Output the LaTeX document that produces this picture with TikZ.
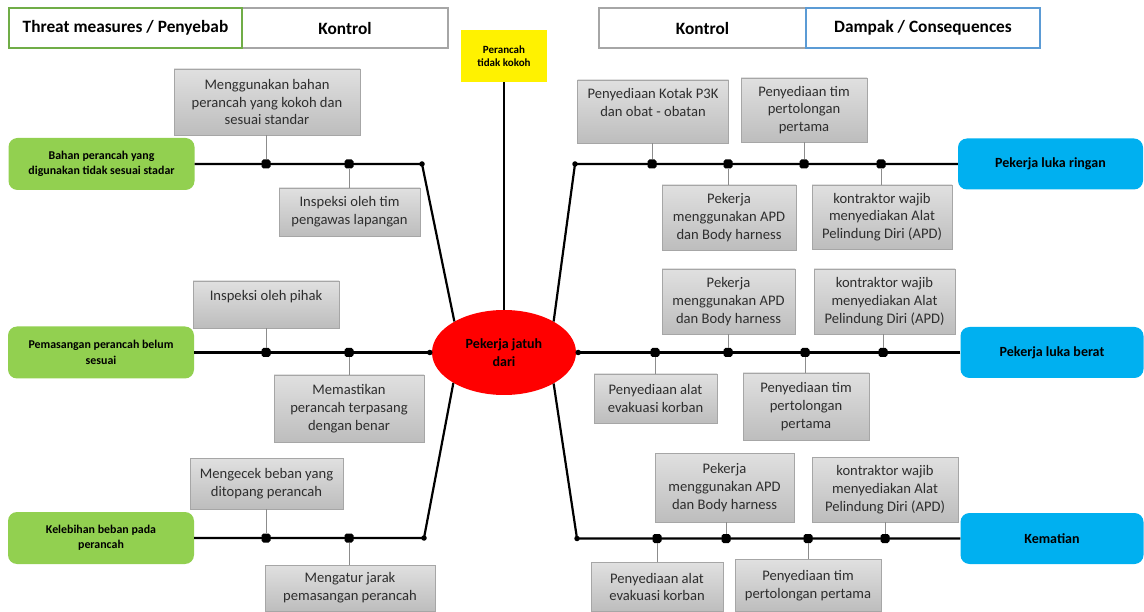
\documentclass[tikz,border=0pt]{standalone}
\usepackage{fontspec}
\setmainfont{Carlito}
\usetikzlibrary{shapes.geometric}
\definecolor{gfill}{HTML}{92D050}
\definecolor{bfill}{HTML}{00B0F0}
\definecolor{hgreen}{HTML}{70AD47}
\definecolor{hblue}{HTML}{5B9BD5}
\definecolor{hgray}{HTML}{A6A6A6}
\definecolor{gtop}{HTML}{E0E0E0}
\definecolor{gbot}{HTML}{BDBDBD}
\definecolor{gline}{HTML}{8C8C8C}
\begin{document}
\begin{tikzpicture}[x=1pt,y=-1pt,
 hdr/.style={draw, line width=1.5pt, fill=white, inner sep=0, minimum height=40pt, font=\fontsize{17.3}{20}\selectfont\bfseries},
 gbox/.style={draw=hgray, line width=0.8pt, top color=gtop, bottom color=gbot, inner sep=0, align=center, font=\fontsize{14.6}{17.7}\selectfont, text=black!82},
 cause/.style={fill=gfill, rounded corners=9pt, inner sep=0, align=center, minimum width=186pt, minimum height=52pt, font=\fontsize{11.9}{15.5}\selectfont\bfseries},
 cons/.style={fill=bfill, rounded corners=9pt, inner sep=0, align=center, minimum width=183pt, minimum height=51pt, font=\fontsize{14}{16}\selectfont\bfseries},
 mainln/.style={line width=2.2pt, black},
 tie/.style={gline, line width=1pt},
 sq/.style={rectangle, fill=black, rounded corners=1.8pt, minimum size=9pt, inner sep=0},
 jd/.style={circle, fill=black, minimum size=5.5pt, inner sep=0},
]
\useasboundingbox (0,0) rectangle (1144,612);
\fill[white] (0,0) rectangle (1144,612);

% headers
\node[hdr, draw=hgray, minimum width=206pt] (h2) at (345,28) {Kontrol};
\node[hdr, draw=hgreen, minimum width=233pt] (h1) at (125.5,28) {Threat measures / Penyebab};
\node[hdr, draw=hgray, minimum width=207pt] (h3) at (702.5,28) {Kontrol};
\node[hdr, draw=hblue, minimum width=234pt] (h4) at (923,28) {Dampak / Consequences};

% top event and hazard
\node[fill=yellow, minimum width=86pt, minimum height=52pt, inner sep=0, align=center, font=\fontsize{11}{13.5}\selectfont\bfseries] (top) at (504,56) {Perancah\\tidak kokoh};
\node[ellipse, fill=red, minimum width=144pt, minimum height=85pt, inner sep=0, align=center, font=\fontsize{14}{17.5}\selectfont\bfseries] (ev) at (504,352.5) {Pekerja jatuh\\dari};

% causes
\node[cause] (c1) at (101.5,164) {Bahan perancah yang\\digunakan tidak sesuai stadar};
\node[cause] (c2) at (101,352.5) {Pemasangan perancah belum\\sesuai};
\node[cause] (c3) at (101,538) {Kelebihan beban pada\\perancah};

% consequences
\node[cons, minimum width=185pt] (k1) at (1050.5,164) {Pekerja luka ringan};
\node[cons] (k2) at (1052,352.5) {Pekerja luka berat};
\node[cons] (k3) at (1052,538.5) {Kematian};

% left control boxes
\node[gbox, minimum width=186pt, minimum height=66pt] (la1) at (267,102) {Menggunakan bahan\\perancah yang kokoh dan\\sesuai standar};
\node[gbox, minimum width=141pt, minimum height=48pt] (lb1) at (349.5,212) {Inspeksi oleh tim\\pengawas lapangan};
\node[gbox, minimum width=146pt, minimum height=47pt] (la2) at (266,304.5) {Inspeksi oleh pihak\\\mbox{}};
\node[gbox, minimum width=150pt, minimum height=67pt] (lb2) at (349,408.5) {Memastikan\\perancah terpasang\\dengan benar};
\node[gbox, minimum width=153pt, minimum height=51pt] (la3) at (266.5,483.5) {Mengecek beban yang\\ditopang perancah};
\node[gbox, minimum width=170pt, minimum height=46pt] (lb3) at (350,588) {Mengatur jarak\\pemasangan perancah};

% right control boxes
\node[gbox, minimum width=151pt, minimum height=63pt] (ra11) at (653,111.5) {Penyediaan Kotak P3K\\dan obat - obatan\\\mbox{}};
\node[gbox, minimum width=126pt, minimum height=64pt] (ra12) at (804,110) {Penyediaan tim\\pertolongan\\pertama};
\node[gbox, minimum width=134pt, minimum height=65pt] (rb11) at (729,217.5) {Pekerja\\menggunakan APD\\dan Body harness};
\node[gbox, minimum width=140pt, minimum height=64pt] (rb12) at (882,217) {kontraktor wajib\\menyediakan Alat\\Pelindung Diri (APD)};

\node[gbox, minimum width=133pt, minimum height=65pt] (ra21) at (728.5,301.5) {Pekerja\\menggunakan APD\\dan Body harness};
\node[gbox, minimum width=141pt, minimum height=65pt] (ra22) at (884.5,301.5) {kontraktor wajib\\menyediakan Alat\\Pelindung Diri (APD)};
\node[gbox, minimum width=123pt, minimum height=49pt] (rb21) at (655.5,398.5) {Penyediaan alat\\evakuasi korban};
\node[gbox, minimum width=126pt, minimum height=67pt] (rb22) at (806,406.5) {Penyediaan tim\\pertolongan\\pertama};

\node[gbox, minimum width=139pt, minimum height=69pt] (ra31) at (724.5,487.5) {Pekerja\\menggunakan APD\\dan Body harness};
\node[gbox, minimum width=146pt, minimum height=65pt] (ra32) at (885,489.5) {kontraktor wajib\\menyediakan Alat\\Pelindung Diri (APD)};
\node[gbox, minimum width=132pt, minimum height=49pt] (rb31) at (657,587) {Penyediaan alat\\evakuasi korban};
\node[gbox, minimum width=146pt, minimum height=52pt] (rb32) at (808,585.5) {Penyediaan tim\\pertolongan pertama};

% junction coordinates
\coordinate (jl1) at (422,164);
\coordinate (jl3) at (424,538);
\coordinate (jr1) at (575,164);
\coordinate (jr3) at (577,538.5);

% main lines
\draw[mainln] (top.south) -- (ev.north);
\draw[mainln] (c1.east) -- (jl1) -- (ev.148);
\draw[mainln] (c2.east) -- (ev.west);
\draw[mainln] (c3.east) -- (jl3) -- (ev.211);
\draw[mainln] (k1.west) -- (jr1) -- (ev.32);
\draw[mainln] (k2.west) -- (ev.east);
\draw[mainln] (k3.west) -- (jr3) -- (ev.-32);

% dots
\node[sq] (d11) at (266,164) {};
\node[sq] (d12) at (349,164) {};
\node[sq] (d21) at (266,352.5) {};
\node[sq] (d22) at (349,352.5) {};
\node[sq] (d31) at (266,538) {};
\node[sq] (d32) at (349,538) {};
\node[sq] (e11) at (652,164) {};
\node[sq] (e12) at (728,164) {};
\node[sq] (e13) at (804,164) {};
\node[sq] (e14) at (881,164) {};
\node[sq] (e21) at (655,352.5) {};
\node[sq] (e22) at (728,352.5) {};
\node[sq] (e23) at (805,352.5) {};
\node[sq] (e24) at (883,352.5) {};
\node[sq] (e31) at (657,538.5) {};
\node[sq] (e32) at (726,538.5) {};
\node[sq] (e33) at (808,538.5) {};
\node[sq] (e34) at (885,538.5) {};
\node[jd] (p1) at (jl1) {};
\node[jd] (p2) at ([xshift=-2pt]ev.west) {};
\node[jd] (p3) at (jl3) {};
\node[jd] (p4) at (jr1) {};
\node[jd] (p5) at ([xshift=2pt]ev.east) {};
\node[jd] (p6) at (jr3) {};

% ties from control boxes to dots
\draw[tie] (d11 |- la1.south) -- (d11.north);
\draw[tie] (d12 |- lb1.north) -- (d12.south);
\draw[tie] (d21 |- la2.south) -- (d21.north);
\draw[tie] (d22 |- lb2.north) -- (d22.south);
\draw[tie] (d31 |- la3.south) -- (d31.north);
\draw[tie] (d32 |- lb3.north) -- (d32.south);
\draw[tie] (e11 |- ra11.south) -- (e11.north);
\draw[tie] (e13 |- ra12.south) -- (e13.north);
\draw[tie] (e12 |- rb11.north) -- (e12.south);
\draw[tie] (e14 |- rb12.north) -- (e14.south);
\draw[tie] (e22 |- ra21.south) -- (e22.north);
\draw[tie] (e24 |- ra22.south) -- (e24.north);
\draw[tie] (e21 |- rb21.north) -- (e21.south);
\draw[tie] (e23 |- rb22.north) -- (e23.south);
\draw[tie] (e32 |- ra31.south) -- (e32.north);
\draw[tie] (e34 |- ra32.south) -- (e34.north);
\draw[tie] (e31 |- rb31.north) -- (e31.south);
\draw[tie] (e33 |- rb32.north) -- (e33.south);
\end{tikzpicture}
\end{document}
